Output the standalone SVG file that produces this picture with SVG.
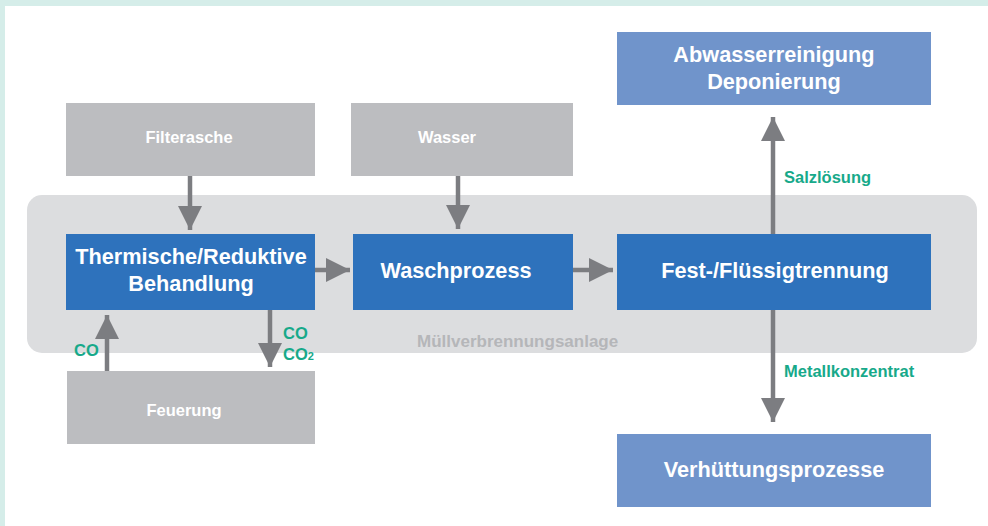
<svg xmlns="http://www.w3.org/2000/svg" width="988" height="526" viewBox="0 0 988 526">
<defs>
<style>
.t{font-family:"Liberation Sans",Arial,sans-serif;font-weight:bold;text-anchor:middle;fill:#ffffff}
.big{font-size:21.7px}
.sm{font-size:16.5px}
.g{font-family:"Liberation Sans",Arial,sans-serif;font-weight:bold;font-size:16.5px;fill:#17a98a}
.blue{fill:#2e72bc}
.lblue{fill:#7094cb}
.gray{fill:#bcbdc0}
.c{stroke:#7c7d81;stroke-width:4.5;fill:none;marker-end:url(#ah)}
</style>
<marker id="ah" markerUnits="userSpaceOnUse" markerWidth="24" markerHeight="24" refX="24" refY="12" orient="auto">
<path d="M0,0 L24,12 L0,24 Z" fill="#7c7d81"/>
</marker>
</defs>
<rect x="0" y="0" width="988" height="526" fill="#d5ede9"/>
<rect x="5" y="6" width="983" height="520" fill="#ffffff"/>
<g id="muellverbrennungsanlage">
<rect x="27" y="195" width="950" height="158" rx="15" fill="#dcdddf"/>
<text x="417" y="347" font-family="Liberation Sans, Arial, sans-serif" font-weight="bold" font-size="17" fill="#b5b6b9">Müllverbrennungsanlage</text>
</g>
<g id="filterasche">
<rect class="gray" x="66" y="103" width="249" height="73"/>
<text class="t sm" x="189" y="143">Filterasche</text>
</g>
<g id="wasser">
<rect class="gray" x="351" y="103" width="222" height="73"/>
<text class="t sm" x="447" y="143">Wasser</text>
</g>
<g id="feuerung">
<rect class="gray" x="67" y="371" width="248" height="73"/>
<text class="t sm" x="184" y="416">Feuerung</text>
</g>
<g id="thermische">
<rect class="blue" x="66" y="234" width="249" height="76"/>
<text class="t big" x="191" y="264">Thermische/Reduktive</text>
<text class="t big" x="191" y="291">Behandlung</text>
</g>
<g id="waschprozess">
<rect class="blue" x="353" y="234" width="220" height="76"/>
<text class="t big" x="456" y="278">Waschprozess</text>
</g>
<g id="fest">
<rect class="blue" x="617" y="234" width="314" height="76"/>
<text class="t big" x="775" y="278">Fest-/Flüssigtrennung</text>
</g>
<g id="abwasser">
<rect class="lblue" x="617" y="32" width="314" height="73"/>
<text class="t big" x="774" y="62">Abwasserreinigung</text>
<text class="t big" x="774" y="89">Deponierung</text>
</g>
<g id="verhuettung">
<rect class="lblue" x="617" y="434" width="314" height="73"/>
<text class="t big" x="774" y="477">Verhüttungsprozesse</text>
</g>
<g id="connectors">
<path class="c" d="M190,176 V230"/>
<path class="c" d="M458,176 V229"/>
<path class="c" d="M315,270 H350"/>
<path class="c" d="M573,270 H613"/>
<path class="c" d="M107,371 V315"/>
<path class="c" d="M270,310 V367"/>
<path class="c" d="M773,234 V117"/>
<path class="c" d="M773,310 V422"/>
<text class="g" x="74" y="356">CO</text>
<text class="g" x="283" y="339">CO</text>
<text class="g" x="283" y="360">CO<tspan font-size="11">2</tspan></text>
<text class="g" x="784" y="183">Salzlösung</text>
<text class="g" x="784" y="377">Metallkonzentrat</text>
</g>
</svg>
